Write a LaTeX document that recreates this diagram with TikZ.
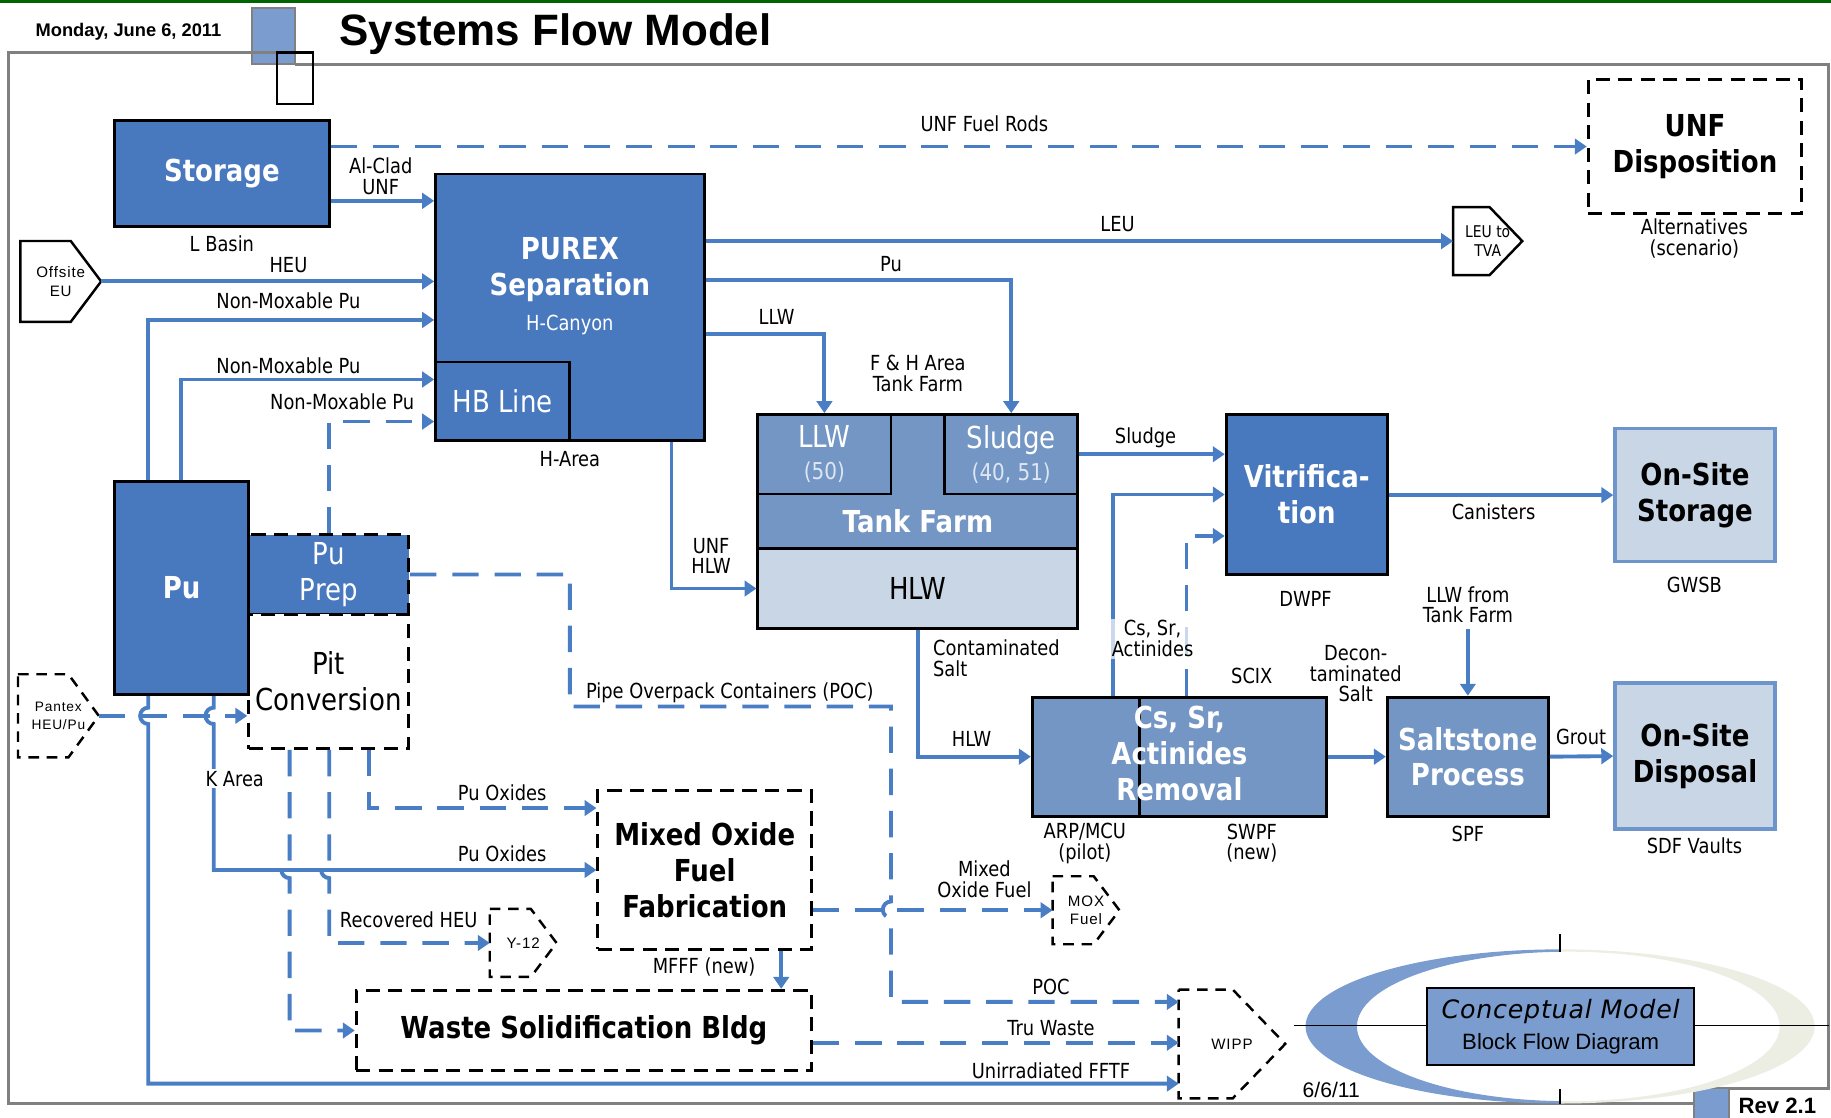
\documentclass[tikz,border=0pt]{standalone}
\usepackage{fontspec}
\setmainfont{DejaVu Sans}[FakeStretch=0.86]
\newfontfamily\arialfont{Liberation Sans}
\newfontfamily\tagfont{Liberation Sans}[LetterSpace=6]
\newfontfamily\notefont{DejaVu Sans}[LetterSpace=3]
\usetikzlibrary{arrows.meta}
\usetikzlibrary{calc}

\definecolor{puBlue}{RGB}{72,120,190}
\definecolor{midBlue}{RGB}{115,150,196}
\definecolor{paleBlue}{RGB}{200,214,230}
\definecolor{edgeBlue}{RGB}{110,148,204}
\definecolor{flowBlue}{RGB}{74,126,196}
\definecolor{tagBlue}{RGB}{122,156,207}
\definecolor{softWhite}{RGB}{222,230,243}
\definecolor{frameGray}{RGB}{128,128,128}
\definecolor{paleGreen}{RGB}{236,238,228}
\definecolor{darkGreen}{RGB}{0,100,0}

% one unit of the drawing grid
\newdimen\pxu
\pxu=0.011677cm

\tikzset{
  boxsize/.style 2 args={minimum width=#1*\pxu, minimum height=#2*\pxu},
  unit/.style={draw=black, line width=0.8pt, inner sep=0pt, align=center,
    font=\fontsize{8.6}{10.2}\selectfont},
  heavy/.style={font=\fontsize{8.6}{10.2}\selectfont\bfseries},
  darkunit/.style={unit, fill=puBlue, text=white},
  midunit/.style={unit, fill=midBlue, text=white},
  paleunit/.style={unit, draw=edgeBlue, line width=1pt, fill=paleBlue},
  planned/.style={unit, dash pattern=on 4pt off 2.4pt},
  lbl/.style={inner sep=0.5pt, align=center, font=\fontsize{5.9}{5.9}\selectfont},
  flow/.style={draw=flowBlue, line width=1.1pt, -{Triangle[length=3.4pt,width=4.4pt]}},
  flowd/.style={flow, dash pattern=on 7.5pt off 4.5pt},
  tag/.style={inner sep=0pt, align=center, font=\tagfont\fontsize{4.3}{5.3}\selectfont},
  tagline/.style={draw=black, line width=0.7pt},
  tagdash/.style={tagline, dash pattern=on 3pt off 2.2pt},
  frame/.style={draw=frameGray, line width=0.8pt},
}

\begin{document}
\begin{tikzpicture}[x=0.011677cm, y=-0.011677cm]
\useasboundingbox (0,0) rectangle (1568,957);

% sheet frame and heading
\draw[darkGreen, line width=0.8pt] (0,1) -- (1568,1);
\fill[tagBlue] (216,7) rectangle (253,55);
\draw[frameGray, line width=0.6pt] (216,7) rectangle (253,55);
\draw[frame] (1451,945) -- (7,945) -- (7,45) -- (237,45);
\draw[frame] (253,55) -- (1566,55) -- (1566,932) -- (1451,932);
\draw[black, line width=0.6pt] (237,45) rectangle (268,89);
\node[anchor=west, font=\arialfont\bfseries\fontsize{12.5}{14}\selectfont] (title) at (280,29) {Systems Flow Model};
\node[font=\arialfont\bfseries\fontsize{5.2}{6}\selectfont] (date) at (110,27) {Monday, June 6, 2011};
\fill[tagBlue] (1451,932) rectangle (1481,957);
\draw[frameGray, line width=0.6pt] (1451,957) -- (1451,932) -- (1481,932) -- (1481,957);
\node[font=\arialfont\bfseries\fontsize{6.3}{7}\selectfont] (rev) at (1522,947) {Rev 2.1};

% title block logo
\begin{scope}
  \clip (1100,790) rectangle (1336,950);
  \fill[tagBlue, even odd rule] (1336,879) ellipse [x radius=218, y radius=66]
    (1343,879) ellipse [x radius=181, y radius=64];
\end{scope}
\begin{scope}
  \clip (1336,790) rectangle (1566,950);
  \fill[paleGreen, even odd rule] (1336,879) ellipse [x radius=218, y radius=66]
    (1343,879) ellipse [x radius=181, y radius=64];
\end{scope}
\draw[black, line width=0.4pt] (1108,878) -- (1566,878);
\draw[black, line width=0.4pt] (1336,800) -- (1336,815) (1336,933) -- (1336,945);
\node[draw=black, line width=0.6pt, fill=tagBlue, boxsize={229}{66}, align=center, inner sep=0pt] (concept) at (1336.5,879)
  {{\notefont\itshape\fontsize{7.2}{7.6}\selectfont Conceptual Model}\\[-3.2pt]
   {\arialfont\fontsize{6.3}{7.4}\selectfont Block Flow Diagram}};
\node[font=\arialfont\fontsize{6}{7}\selectfont] (issued) at (1140,933) {6/6/11};

% process units
\node[darkunit, heavy, boxsize={184}{91}] (storage) at (190,148.5) {Storage};
\node[lbl] (storageSite) at (190,209) {L Basin};
\node[darkunit, boxsize={230}{228}] (purex) at (488,263) {};
\node[heavy, text=white, align=center] (purexName) at (488,231) {PUREX\\Separation};
\node[lbl, text=white] (purexSite) at (488,278) {H-Canyon};
\node[darkunit, boxsize={115}{67}] (hbline) at (430.5,343.5) {HB Line};
\node[lbl] (purexArea) at (488,393) {H-Area};

\node[midunit, boxsize={274}{115}] (tankfarm) at (786,412.5) {};
\node[unit, fill=paleBlue, boxsize={274}{68}] (hlw) at (786,504) {HLW};
\node[midunit, boxsize={114}{68}] (llw) at (706,389)
  {LLW\\[-1.2pt]\fontsize{6.6}{7}\selectfont\color{softWhite}(50)};
\node[midunit, boxsize={114}{68}] (sludge) at (866,389)
  {Sludge\\[-1.2pt]\fontsize{6.6}{7}\selectfont\color{softWhite}(40, 51)};
\node[heavy, text=white] (tankfarmName) at (786,446) {Tank Farm};
\node[lbl] (tankfarmSite) at (786,320) {F \& H Area\\Tank Farm};

\node[darkunit, heavy, boxsize={138}{137}] (vitri) at (1119,423.5) {Vitrifica-\\tion};
\node[lbl] (vitriSite) at (1118,513) {DWPF};
\node[paleunit, heavy, boxsize={137}{114}] (onstore) at (1451.5,424) {On-Site\\Storage};
\node[lbl] (onstoreSite) at (1451,501) {GWSB};
\node[paleunit, heavy, boxsize={137}{125}] (ondisp) at (1451.5,647.5) {On-Site\\Disposal};
\node[lbl] (ondispSite) at (1451,724) {SDF Vaults};
\node[midunit, heavy, boxsize={138}{102}] (salt) at (1257,648) {Saltstone\\Process};
\node[lbl] (saltSite) at (1257,714) {SPF};
\node[midunit, boxsize={252}{102}] (csr) at (1010,648) {};
\draw[black, line width=0.8pt] (csr.north -| 976,0) -- (csr.south -| 976,0);
\node[heavy, text=white, align=center] (csrName) at (1010,645) {Cs, Sr,\\Actinides\\Removal};
\node[lbl] (csrPilot) at (929,722) {ARP/MCU\\(pilot)};
\node[lbl] (csrNew) at (1072,722) {SWPF\\(new)};
\node[lbl] (csrScix) at (1072,579) {SCIX};

\node[darkunit, dash pattern=on 4pt off 2.4pt, boxsize={137}{68}] (puprep) at (281.5,492) {Pu\\Prep};
\node[planned, fill=white, boxsize={137}{115}] (pitconv) at (281.5,583.5) {Pit\\Conversion};
\node[darkunit, heavy, boxsize={115}{183}] (pu) at (155.5,503.5) {Pu};
\node[planned, heavy, boxsize={183}{136}] (mox) at (603.5,745) {Mixed Oxide\\Fuel\\Fabrication};
\node[lbl] (moxSite) at (603,828) {MFFF (new)};
\node[planned, heavy, boxsize={390}{69}] (wsb) at (500,882.5) {Waste Solidification Bldg};
\node[planned, heavy, boxsize={183}{115}] (unfdisp) at (1451.5,125.5) {UNF\\Disposition};
\node[lbl] (unfdispNote) at (1451,204) {Alternatives\\(scenario)};

% off-site sources and destinations
\node[tag, boxsize={68}{68}] (offsite) at (52,241) {Offsite\\EU};
\draw[tagline] (offsite.north west) -- ($(offsite.north east)+(-26,0)$) -- (offsite.east)
  -- ($(offsite.south east)+(-26,0)$) -- (offsite.south west) -- cycle;
\node[tag, font=\fontsize{4.6}{5.6}\selectfont, boxsize={58}{57}] (leu) at (1274,206.5) {LEU to\\TVA};
\draw[tagline] (leu.north west) -- ($(leu.north east)+(-28,0)$) -- (leu.east)
  -- ($(leu.south east)+(-28,0)$) -- (leu.south west) -- cycle;
\node[tag, font=\tagfont\fontsize{3.9}{5.2}\selectfont, boxsize={68}{70}] (pantex) at (50,613) {Pantex\\HEU/Pu};
\draw[tagdash] (pantex.north west) -- ($(pantex.north east)+(-26,0)$) -- (pantex.east)
  -- ($(pantex.south east)+(-26,0)$) -- (pantex.south west) -- cycle;
\node[tag, boxsize={56}{57}] (y12) at (448,807.5) {Y-12};
\draw[tagdash] (y12.north west) -- ($(y12.north east)+(-22,0)$) -- (y12.east)
  -- ($(y12.south east)+(-22,0)$) -- (y12.south west) -- cycle;
\node[tag, boxsize={56}{57}] (moxfuel) at (930,779.5) {MOX\\Fuel};
\draw[tagdash] (moxfuel.north west) -- ($(moxfuel.north east)+(-22,0)$) -- (moxfuel.east)
  -- ($(moxfuel.south east)+(-22,0)$) -- (moxfuel.south west) -- cycle;
\node[tag, boxsize={90}{92}] (wipp) at (1055,894) {WIPP};
\draw[tagdash] (wipp.north west) -- ($(wipp.north east)+(-45,0)$) -- (wipp.east)
  -- ($(wipp.south east)+(-45,0)$) -- (wipp.south west) -- cycle;

% feeds into PUREX and HB Line
\draw[flowd] (storage.east |- unfdisp.west) -- (unfdisp.west);
\draw[flow] (storage.east |- 0,172) -- (purex.west |- 0,172);
\draw[flow] (offsite.east) -- (purex.west |- offsite.east);
\draw[flow] (pu.north -| 127,0) |- (purex.west |- 0,274);
\draw[flow] (pu.north -| 155,0) |- (hbline.west |- 0,325);
\draw[flowd] (puprep.north) |- (hbline.west |- 0,361);

% out of PUREX
\draw[flow] (purex.east |- leu.west) -- (leu.west);
\draw[flow] (purex.east |- 0,240) -| (sludge.north);
\draw[flow] (purex.east |- 0,286) -| (llw.north);
\draw[flow] (purex.south -| 575,0) |- (hlw.west);

% tank farm to vitrification and saltstone
\draw[flow] (sludge.east) -- (vitri.west |- sludge.east);
\draw[flow] (csr.north -| 953,0) |- (vitri.west);
\draw[flowd] (csr.north -| 1016,0) |- (vitri.west |- 0,459);
\draw[flow] (vitri.east |- onstore.west) -- (onstore.west);
\draw[flow] (hlw.south) |- (csr.west);
\draw[flow] (csr.east) -- (salt.west);
\node[lbl] (llwsrc) at (1257,518) {LLW from\\Tank Farm};
\draw[flow, shorten <=1pt] (llwsrc.south) -- (salt.north);
\draw[flow] (salt.east) -- (ondisp.west);

% Pu, pit conversion and MOX routes
\draw[flowd] (pantex.east) -- (pitconv.west |- pantex.east);
\draw[flow] (pu.south -| 127,0) -- (127,606) arc[start angle=-90, end angle=-270, radius=7]
  |- (wipp.west |- 0,928);
\draw[flow] (pu.south -| 183,0) -- (183,606) arc[start angle=-90, end angle=-270, radius=7]
  |- (mox.west |- 0,745);
\draw[flowd] (pitconv.south -| 316,0) |- (mox.west |- 0,692);
\draw[flowd] (pitconv.south -| 282,0) -- (282,738) arc[start angle=-90, end angle=-270, radius=7]
  |- (y12.west);
\draw[flowd] (pitconv.south -| 248,0) -- (248,738) arc[start angle=-90, end angle=-270, radius=7]
  |- (wsb.west);
\draw[flowd] (puprep.east) -| (488,605) -- (763,605) -- (763,772)
  arc[start angle=-90, end angle=-270, radius=7] |- (wipp.west |- 0,858);
\draw[flowd] (mox.east |- moxfuel.west) -- (moxfuel.west);
\draw[flowd] (mox.south -| 669,0) -- (wsb.north -| 669,0);
\draw[flowd] (wsb.east |- 0,893) -- (wipp.west |- 0,893);

% stream labels
\node[lbl] (unfRods) at (843,106) {UNF Fuel Rods};
\node[lbl] (alClad) at (326,151) {Al-Clad\\UNF};
\node[lbl] (heu) at (247,227) {HEU};
\node[lbl] (nonMoxA) at (247,258) {Non-Moxable Pu};
\node[lbl] (nonMoxB) at (247,313) {Non-Moxable Pu};
\node[lbl] (nonMoxC) at (293,344) {Non-Moxable Pu};
\node[lbl] (leuFlow) at (957,192) {LEU};
\node[lbl] (puFlow) at (763,226) {Pu};
\node[lbl] (llwFlow) at (665,271) {LLW};
\node[lbl] (unfHlw) at (609,476) {UNF\\HLW};
\node[lbl] (sludgeFlow) at (981,375) {Sludge};
\node[lbl] (canisters) at (1279,438) {Canisters};
\node[lbl, fill=white, fill opacity=0.7, text opacity=1] (csrFlow) at (987,547) {Cs, Sr,\\Actinides};
\node[lbl, anchor=west, align=left] (contSalt) at (797,564) {Contaminated\\Salt};
\node[lbl] (deconSalt) at (1161,577) {Decon-\\taminated\\Salt};
\node[lbl] (hlwFlow) at (832,633) {HLW};
\node[lbl] (grout) at (1354,631) {Grout};
\node[lbl] (pocLong) at (625,593) {Pipe Overpack Containers (POC)};
\node[lbl, fill=white] (kArea) at (201,667) {K Area};
\node[lbl] (puOxA) at (430,679) {Pu Oxides};
\node[lbl] (puOxB) at (430,731) {Pu Oxides};
\node[lbl] (moxFlow) at (843,753) {Mixed\\Oxide Fuel};
\node[lbl] (recHeu) at (350,788) {Recovered HEU};
\node[lbl] (pocShort) at (900,845) {POC};
\node[lbl] (truWaste) at (900,880) {Tru Waste};
\node[lbl] (fftf) at (900,917) {Unirradiated FFTF};
\end{tikzpicture}
\end{document}
